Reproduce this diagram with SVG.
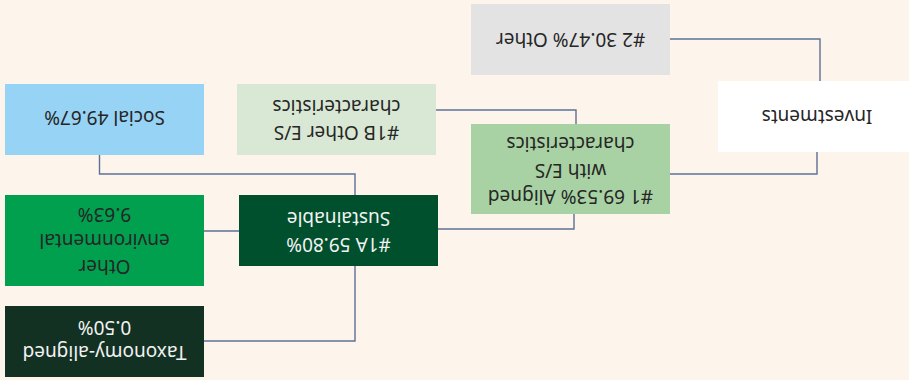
<svg xmlns="http://www.w3.org/2000/svg" width="909" height="380" viewBox="0 0 909 380">
<style>
.t{font-family:"Noto Sans","DejaVu Sans",sans-serif;font-size:19px;text-anchor:middle;dominant-baseline:central;fill:#262626}
.w{fill:#f2f2f2}
.c{fill:none;stroke:#5d7196;stroke-width:1.4}
</style>
<rect width="909" height="380" fill="#fdf4eb"/>
<g id="connectors">
<polyline class="c" points="820,81 820,39 670,39"/>
<polyline class="c" points="817,152 817,174 670,174"/>
<polyline class="c" points="576,124 576,110 436,110"/>
<polyline class="c" points="574,214 574,229 438,229"/>
<polyline class="c" points="355,195 355,174 99.5,174 99.5,155"/>
<polyline class="c" points="239,231 204,231"/>
<polyline class="c" points="355,266 355,341 204,341"/>
</g>
<g id="investments">
<rect x="718" y="81" width="199" height="71" fill="#ffffff"/>
<text class="t" transform="rotate(180 817 117)" x="817" y="117">Investments</text>
</g>
<g id="other2">
<rect x="471" y="4" width="199" height="71" fill="#e3e3e3"/>
<text class="t" transform="rotate(180 570.5 39.5)" x="570.5" y="39.5">#2 30.47% Other</text>
</g>
<g id="aligned1">
<rect x="471" y="124" width="199" height="90" fill="#a8d2a3"/>
<text class="t" transform="rotate(180 570.5 169)" x="570.5"><tspan y="141">#1 69.53% Aligned</tspan><tspan x="570.5" y="167">with E/S</tspan><tspan x="570.5" y="194">characteristics</tspan></text>
</g>
<g id="other1b">
<rect x="237" y="84" width="199" height="71" fill="#d9e8d4"/>
<text class="t" transform="rotate(180 336.5 119.5)" x="336.5"><tspan y="106.5">#1B Other E/S</tspan><tspan x="336.5" y="132.5">characteristics</tspan></text>
</g>
<g id="social">
<rect x="5" y="84" width="199" height="71" fill="#97d3f5"/>
<text class="t" transform="rotate(180 104.5 119.5)" x="104.5" y="121">Social 49.67%</text>
</g>
<g id="sustainable1a">
<rect x="239" y="195" width="199" height="71" fill="#004f2d"/>
<text class="t w" transform="rotate(180 338.5 230.5)" x="338.5"><tspan y="216">#1A 59.80%</tspan><tspan x="338.5" y="242">Sustainable</tspan></text>
</g>
<g id="otherenv">
<rect x="5" y="195" width="199" height="91" fill="#00a04f"/>
<text class="t" transform="rotate(180 104.5 240.5)" x="104.5"><tspan y="214.5">Other</tspan><tspan x="104.5" y="240.5">environmental</tspan><tspan x="104.5" y="266.5">9.63%</tspan></text>
</g>
<g id="taxonomy">
<rect x="5" y="306" width="199" height="71" fill="#133123"/>
<text class="t w" transform="rotate(180 104.5 341.5)" x="104.5"><tspan y="330">Taxonomy-aligned</tspan><tspan x="104.5" y="355">0.50%</tspan></text>
</g>
</svg>
